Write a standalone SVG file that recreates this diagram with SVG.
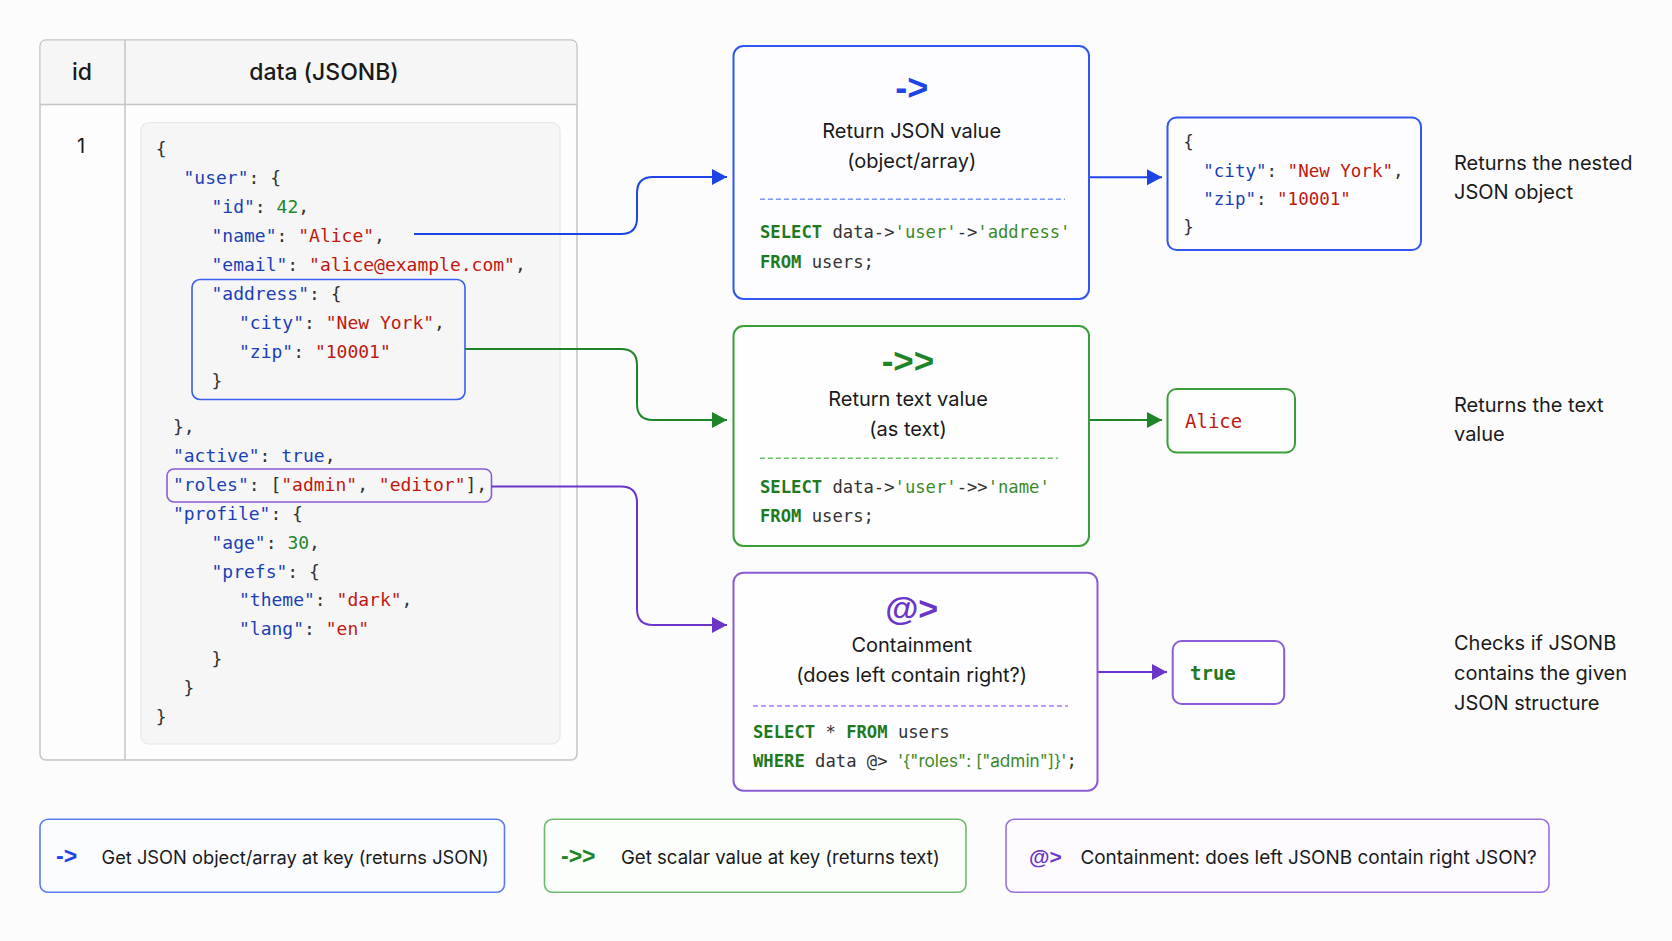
<svg xmlns="http://www.w3.org/2000/svg" width="1672" height="941" viewBox="0 0 1672 941">
<style>
.sans{font-family:Inter,"Liberation Sans",Arial,sans-serif;fill:#1a1a1a;font-feature-settings:"calt" 0,"liga" 0;font-variant-ligatures:none}
.sym{font-family:"Liberation Sans",Arial,sans-serif;font-weight:bold;font-variant-ligatures:none}
.mono{font-family:"DejaVu Sans Mono","Liberation Mono",monospace;fill:#333}
.code{font-size:18px}
.k{fill:#1c3fb5}
.s{fill:#c0180f}
.n{fill:#23872a}
.kw{fill:#1f7a1f;font-weight:bold}
.sq{fill:#3a8a2a}
.title{font-size:20px;text-anchor:middle}
.desc{font-size:20px}
.leg{font-size:18.6px}
</style>
<defs>
<marker id="ab" markerUnits="userSpaceOnUse" markerWidth="16" markerHeight="18" refX="15" refY="8" orient="auto"><path d="M0,0 L15,8 L0,16 z" fill="#1f44e6"/></marker>
<marker id="ag" markerUnits="userSpaceOnUse" markerWidth="16" markerHeight="18" refX="15" refY="8" orient="auto"><path d="M0,0 L15,8 L0,16 z" fill="#1f8427"/></marker>
<marker id="ap" markerUnits="userSpaceOnUse" markerWidth="16" markerHeight="18" refX="15" refY="8" orient="auto"><path d="M0,0 L15,8 L0,16 z" fill="#6a35c8"/></marker>
</defs>
<rect x="0" y="0" width="1672" height="941" fill="#fcfcfc"/>

<g id="table">
<rect x="40" y="40" width="537" height="720" rx="6" fill="#fdfdfd" stroke="#c4c4c4" stroke-width="1.5"/>
<path d="M40.75,104.5 V46 Q40.75,40.75 46,40.75 H571 Q576.25,40.75 576.25,46 V104.5 Z" fill="#f6f6f6"/>
<line x1="40" y1="104.5" x2="577" y2="104.5" stroke="#c4c4c4" stroke-width="1.5"/>
<line x1="125" y1="40" x2="125" y2="760" stroke="#c4c4c4" stroke-width="1.5"/>
<text class="sans" x="82" y="80" font-size="23" font-weight="500" text-anchor="middle">id</text>
<text class="sans" x="324" y="80" font-size="23" font-weight="500" text-anchor="middle">data (JSONB)</text>
<text class="sans" x="81" y="153" font-size="20" text-anchor="middle">1</text>
<rect x="141" y="122.5" width="419" height="621.5" rx="8" fill="#f6f6f7" stroke="#e6e6e6" stroke-width="1.2"/>
<g class="mono code">
<text x="155.7" y="155">{</text>
<text x="183.5" y="183.5"><tspan class="k">"user"</tspan>: {</text>
<text x="211.5" y="212.5"><tspan class="k">"id"</tspan>: <tspan class="n">42</tspan>,</text>
<text x="211.5" y="242"><tspan class="k">"name"</tspan>: <tspan class="s">"Alice"</tspan>,</text>
<text x="211.5" y="271"><tspan class="k">"email"</tspan>: <tspan class="s">"alice@example.com"</tspan>,</text>
<text x="211.5" y="299.5"><tspan class="k">"address"</tspan>: {</text>
<text x="239" y="329"><tspan class="k">"city"</tspan>: <tspan class="s">"New York"</tspan>,</text>
<text x="239" y="358"><tspan class="k">"zip"</tspan>: <tspan class="s">"10001"</tspan></text>
<text x="211.5" y="387">}</text>
<text x="172.9" y="433">},</text>
<text x="172.9" y="462"><tspan class="k">"active"</tspan>: <tspan class="k">true</tspan>,</text>
<text x="172.9" y="491"><tspan class="k">"roles"</tspan>: [<tspan class="s">"admin"</tspan>, <tspan class="s">"editor"</tspan>],</text>
<text x="172.9" y="520"><tspan class="k">"profile"</tspan>: {</text>
<text x="211.5" y="548.5"><tspan class="k">"age"</tspan>: <tspan class="n">30</tspan>,</text>
<text x="211.5" y="577.5"><tspan class="k">"prefs"</tspan>: {</text>
<text x="239" y="606"><tspan class="k">"theme"</tspan>: <tspan class="s">"dark"</tspan>,</text>
<text x="239" y="635"><tspan class="k">"lang"</tspan>: <tspan class="s">"en"</tspan></text>
<text x="211.5" y="665">}</text>
<text x="183.5" y="693.5">}</text>
<text x="155.7" y="723">}</text>
</g>
<rect id="hl-address" x="192" y="279.5" width="273" height="120" rx="8" fill="none" stroke="#3a5ef0" stroke-width="1.6"/>
<rect id="hl-roles" x="167" y="469" width="324.5" height="33" rx="7" fill="none" stroke="#8a5ad6" stroke-width="1.6"/>
</g>

<g id="connectors" fill="none" stroke-width="2">
<path d="M414,234 H621 Q637,234 637,218 V193 Q637,177 653,177 H727" stroke="#1f44e6" marker-end="url(#ab)"/>
<path d="M465,349 H621 Q637,349 637,365 V404 Q637,420 653,420 H727" stroke="#1f8427" marker-end="url(#ag)"/>
<path d="M491.5,486.5 H621 Q637,486.5 637,502.5 V609 Q637,625 653,625 H727" stroke="#6a35c8" marker-end="url(#ap)"/>
<path d="M1089,177.3 H1162" stroke="#1f44e6" marker-end="url(#ab)"/>
<path d="M1089,420 H1162" stroke="#1f8427" marker-end="url(#ag)"/>
<path d="M1097.5,672 H1167" stroke="#6a35c8" marker-end="url(#ap)"/>
</g>

<g id="op-arrow">
<rect x="733.5" y="46" width="355.5" height="253" rx="10" fill="#fdfdff" stroke="#3355f0" stroke-width="2"/>
<text class="sym" x="911.7" y="100" font-size="36" text-anchor="middle" fill="#1f44e6">-&gt;</text>
<text class="sans title" x="911.7" y="138">Return JSON value</text>
<text class="sans title" x="911.7" y="168">(object/array)</text>
<line x1="760" y1="199.3" x2="1065" y2="199.3" stroke="#7b97f3" stroke-width="1.5" stroke-dasharray="5 3"/>
<text class="mono" x="760" y="238.3" font-size="17.2"><tspan class="kw">SELECT</tspan> data-&gt;<tspan class="sq">'user'</tspan>-&gt;<tspan class="sq">'address'</tspan></text>
<text class="mono" x="760" y="268.3" font-size="17.2"><tspan class="kw">FROM</tspan> users;</text>
</g>

<g id="op-text">
<rect x="733.5" y="326" width="355.5" height="220" rx="10" fill="#fdfefd" stroke="#3a9e3a" stroke-width="2"/>
<text class="sym" x="908" y="373" font-size="35" text-anchor="middle" fill="#1f8427">-&gt;&gt;</text>
<text class="sans title" x="908" y="406">Return text value</text>
<text class="sans title" x="908" y="436">(as text)</text>
<line x1="760" y1="458.3" x2="1058" y2="458.3" stroke="#6fc06f" stroke-width="1.5" stroke-dasharray="5 3"/>
<text class="mono" x="760" y="492.7" font-size="17.2"><tspan class="kw">SELECT</tspan> data-&gt;<tspan class="sq">'user'</tspan>-&gt;&gt;<tspan class="sq">'name'</tspan></text>
<text class="mono" x="760" y="521.7" font-size="17.2"><tspan class="kw">FROM</tspan> users;</text>
</g>

<g id="op-contain">
<rect x="733.5" y="572.7" width="364" height="218" rx="10" fill="#fefdff" stroke="#8b5cd6" stroke-width="2"/>
<text class="sym" x="911.7" y="620" font-size="34" text-anchor="middle" fill="#6a35c8">@&gt;</text>
<text class="sans title" x="911.7" y="651.7">Containment</text>
<text class="sans title" x="911.7" y="681.7">(does left contain right?)</text>
<line x1="753" y1="706" x2="1068" y2="706" stroke="#a67ee6" stroke-width="1.5" stroke-dasharray="5 3"/>
<text class="mono" x="753" y="738.3" font-size="17.2"><tspan class="kw">SELECT</tspan> * <tspan class="kw">FROM</tspan> users</text>
<text class="mono" x="753" y="766.7" font-size="17.2"><tspan class="kw">WHERE</tspan> data @&gt; <tspan class="sq" style="font-family:Inter,'Liberation Sans',sans-serif">'{"roles": ["admin"]}'</tspan>;</text>
</g>

<g id="result-json">
<rect x="1167.5" y="117.5" width="253.5" height="132.5" rx="9" fill="#fdfdff" stroke="#3355f0" stroke-width="2"/>
<g class="mono" font-size="17.5">
<text x="1183.3" y="148.3">{</text>
<text x="1203.3" y="176.7"><tspan class="k">"city"</tspan>: <tspan class="s">"New York"</tspan>,</text>
<text x="1203.3" y="205"><tspan class="k">"zip"</tspan>: <tspan class="s">"10001"</tspan></text>
<text x="1183.3" y="233.3">}</text>
</g>
</g>

<g id="result-alice">
<rect x="1167.5" y="389" width="127.5" height="63.5" rx="9" fill="#fdfefd" stroke="#3a9e3a" stroke-width="2"/>
<text class="mono s" x="1185" y="428.3" font-size="19">Alice</text>
</g>

<g id="result-true">
<rect x="1172.7" y="641" width="111.5" height="63" rx="9" fill="#fefdff" stroke="#8b5cd6" stroke-width="2"/>
<text class="mono" x="1190" y="680" font-size="19" font-weight="bold" style="fill:#1f7a1f">true</text>
</g>

<g id="descriptions">
<text class="sans desc" x="1454" y="170">Returns the nested</text>
<text class="sans desc" x="1454" y="199.3">JSON object</text>
<text class="sans desc" x="1454" y="411.7">Returns the text</text>
<text class="sans desc" x="1454" y="440.7">value</text>
<text class="sans desc" x="1454" y="650">Checks if JSONB</text>
<text class="sans desc" x="1454" y="680">contains the given</text>
<text class="sans desc" x="1454" y="710">JSON structure</text>
</g>

<g id="legend-arrow">
<rect x="40" y="819.3" width="464.5" height="73" rx="8" fill="#fbfcff" stroke="#5b7cf0" stroke-width="1.6"/>
<text class="sym" x="56" y="864" font-size="23" fill="#1f44e6">-&gt;</text>
<text class="sans" x="101.5" y="864" font-size="18.3">Get JSON object/array at key (returns JSON)</text>
</g>
<g id="legend-text">
<rect x="544.5" y="819.3" width="421.5" height="73" rx="8" fill="#fbfefb" stroke="#6cbb6c" stroke-width="1.6"/>
<text class="sym" x="561" y="864" font-size="23" fill="#1f8427">-&gt;&gt;</text>
<text class="sans leg" x="621" y="864">Get scalar value at key (returns text)</text>
</g>
<g id="legend-contain">
<rect x="1006" y="819.3" width="543" height="73" rx="8" fill="#fdfbff" stroke="#9a6fe0" stroke-width="1.6"/>
<text class="sym" x="1029" y="864" font-size="21" fill="#6a35c8">@&gt;</text>
<text class="sans" x="1080.4" y="864" font-size="18.95">Containment: does left JSONB contain right JSON?</text>
</g>
</svg>
